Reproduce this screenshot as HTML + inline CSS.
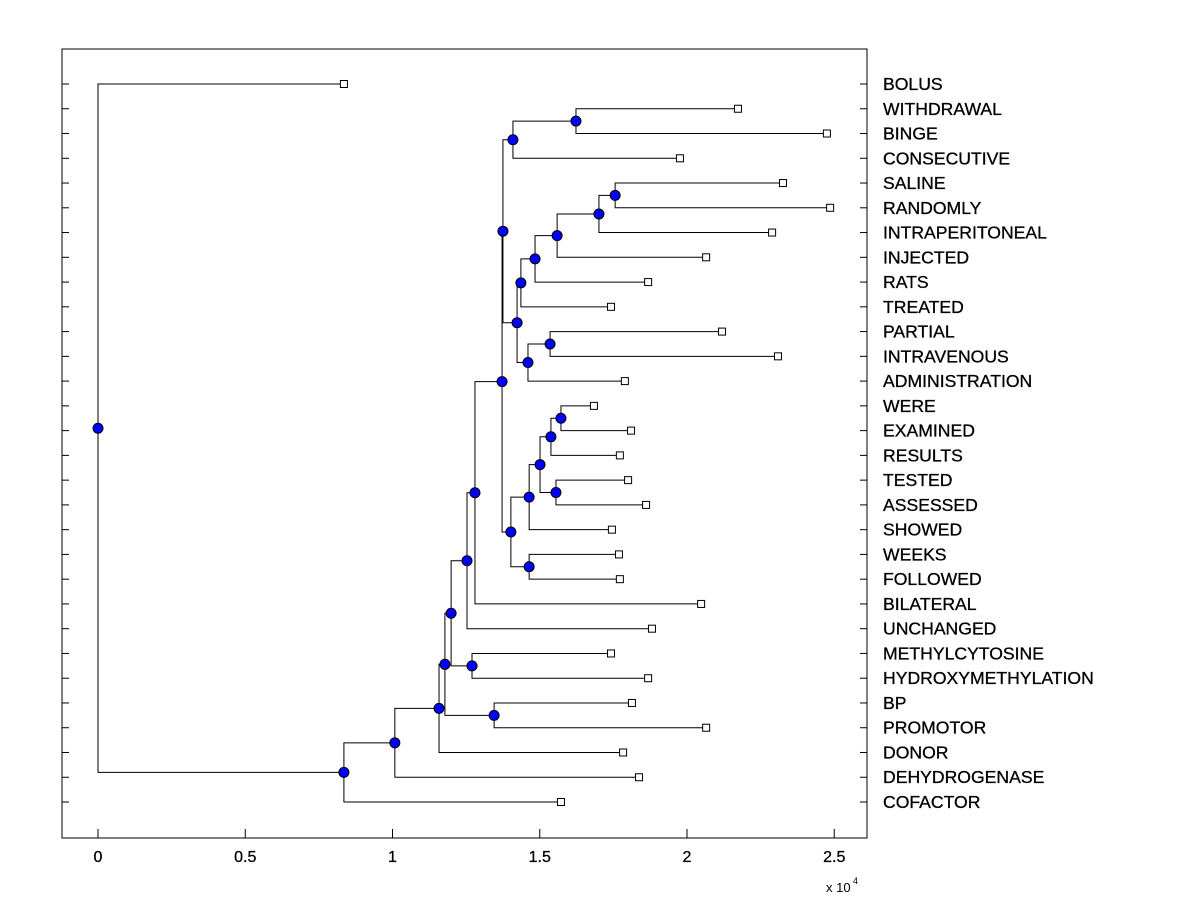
<!DOCTYPE html>
<html><head><meta charset="utf-8"><style>
body{margin:0;background:#fff;}
svg text{font-family:"Liberation Sans",Arial,sans-serif;}
</style></head><body>
<svg id="chart" width="1200" height="900" xmlns="http://www.w3.org/2000/svg">
<rect x="0" y="0" width="1200" height="900" fill="#fff"/>
<g id="plot"></g>
</svg>
<script>
const leafLabels=["BOLUS","WITHDRAWAL","BINGE","CONSECUTIVE","SALINE","RANDOMLY","INTRAPERITONEAL","INJECTED","RATS","TREATED","PARTIAL","INTRAVENOUS","ADMINISTRATION","WERE","EXAMINED","RESULTS","TESTED","ASSESSED","SHOWED","WEEKS","FOLLOWED","BILATERAL","UNCHANGED","METHYLCYTOSINE","HYDROXYMETHYLATION","BP","PROMOTOR","DONOR","DEHYDROGENASE","COFACTOR"];
const leafValues=[0.835,2.173,2.475,1.976,2.326,2.486,2.289,2.065,1.868,1.742,2.119,2.309,1.789,1.684,1.810,1.772,1.800,1.861,1.745,1.769,1.772,2.048,1.881,1.742,1.868,1.813,2.065,1.783,1.837,1.572];
// merges: [childA, childB, value]; leaves are "L<i>", nodes "N<i>"
const mergeLeft=["L1","N0","L4","N2","N3","N4","N5","L10","N7","N6","N1","L13","N11","L16","N12","N14","L19","N15","N10","N18","N19","L23","N20","L25","N22","N24","N25","N26","L0"];
const mergeRight=["L2","L3","L5","L6","L7","L8","L9","L11","L12","N8","N9","L14","L15","L17","N13","L18","L20","N16","N17","L21","L22","L24","N21","L26","N23","L27","L28","L29","N27"];
const mergeValues=[1.623,1.409,1.756,1.701,1.559,1.484,1.436,1.535,1.460,1.423,1.375,1.572,1.538,1.555,1.501,1.464,1.464,1.402,1.372,1.280,1.253,1.270,1.199,1.345,1.178,1.158,1.008,0.835,0];
const xTicks=[0,0.5,1,1.5,2,2.5];
const xTickLabels=["0","0.5","1","1.5","2","2.5"];

const NS="http://www.w3.org/2000/svg";
const g=document.getElementById('plot');
const L=62,R=867,T=49,B=838;
const xs=v=>98+v*294.5;
const ys=i=>84+i*(802-84)/29;
function mk(tag,attrs,parent){const e=document.createElementNS(NS,tag);for(const k in attrs)e.setAttribute(k,attrs[k]);(parent||g).appendChild(e);return e;}

const frame=mk('rect',{x:L,y:T,width:R-L,height:B-T,fill:'none',stroke:'#000','stroke-width':1});



for(let i=0;i<leafLabels.length;i++){
  const y=ys(i);
  const t1=mk('line',{x1:L,y1:y,x2:L+7,y2:y,stroke:'#000'});
  
  
  const t2=mk('line',{x1:R-7,y1:y,x2:R,y2:y,stroke:'#000'});
  
  
  const tx=mk('text',{x:883,y:y+6,'font-size':17.6,fill:'#000',stroke:'#000','stroke-width':0.3});
  tx.textContent=leafLabels[i];
  
  
}
xTicks.forEach((v,i)=>{
  const x=xs(v);
  const t=mk('line',{x1:x,y1:B,x2:x,y2:B-9,stroke:'#000'});
  
  
  const tx=mk('text',{x:x,y:862,'font-size':16,'text-anchor':'middle',fill:'#000',stroke:'#000','stroke-width':0.3});
  tx.textContent=xTickLabels[i];
  
  
});
const ex=mk('text',{x:826,y:892,'font-size':13,fill:'#000'});
ex.textContent='x 10';


const ex2=mk('text',{x:853,y:884,'font-size':9,fill:'#000'});
ex2.textContent='4';



const pos={};
leafValues.forEach((v,i)=>{pos['L'+i]={x:xs(v),y:ys(i)};});
const nodes=[];
mergeLeft.forEach((a,i)=>{
  const b=mergeRight[i];
  const pa=pos[a],pb=pos[b];
  const x=xs(mergeValues[i]);
  const y=(pa.y+pb.y)/2;
  pos['N'+i]={x,y};
  const p=mk('path',{d:`M${pa.x},${pa.y}H${x}V${pb.y}H${pb.x}`,fill:'none',stroke:'#000','stroke-width':1});
  
  
  nodes.push({x,y});
});
leafValues.forEach((v,i)=>{
  const s=mk('rect',{x:xs(v)-3.5,y:ys(i)-3.5,width:7,height:7,fill:'#fff',stroke:'#000'});
  
  
});
nodes.forEach(n=>{
  const c=mk('circle',{cx:n.x,cy:n.y,r:5,fill:'#0000ff',stroke:'#000','stroke-width':1});
  
  
});
</script>
</body></html>
